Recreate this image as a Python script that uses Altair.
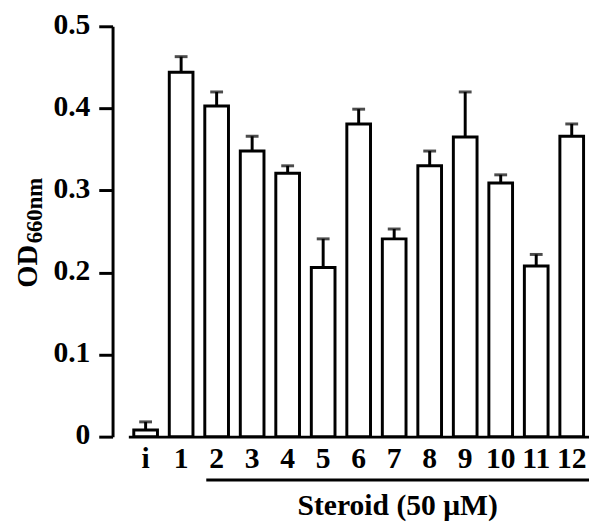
import altair as alt
import pandas as pd

categories = ["i", "1", "2", "3", "4", "5", "6", "7", "8", "9", "10", "11", "12"]
values = [0.008, 0.444, 0.403, 0.348, 0.321, 0.206, 0.381, 0.241, 0.330, 0.365, 0.309, 0.208, 0.366]
errors = [0.010, 0.019, 0.017, 0.018, 0.009, 0.035, 0.018, 0.012, 0.018, 0.055, 0.010, 0.014, 0.015]
y_ticks = [0, 0.1, 0.2, 0.3, 0.4, 0.5]
group_label = "Steroid (50 μM)"

df = pd.DataFrame({"cat": categories, "od": values, "err": errors})
df["hi"] = df["od"] + df["err"]

FONT = "Liberation Serif"
W, H = 467, 416

xscale = alt.Scale(domain=categories, paddingInner=0.333, paddingOuter=0.153)
yscale = alt.Scale(domain=[0, 0.5], nice=False)

x_enc = alt.X("cat:N", scale=xscale, sort=categories,
              axis=alt.Axis(title=None, labelAngle=0, ticks=False, labelFont=FONT,
                            labelFontSize=30, labelFontWeight="bold", labelColor="black",
                            labelPadding=7, domainColor="black", domainWidth=3))
y_axis = alt.Axis(title=None, values=y_ticks, offset=16, grid=False,
                  labelExpr="datum.value == 0 ? '0' : format(datum.value, '.1f')",
                  labelFont=FONT, labelFontSize=30, labelFontWeight="bold", labelColor="black",
                  labelPadding=9, labelOffset=-2, tickSize=14, tickWidth=3, tickColor="black",
                  domainColor="black", domainWidth=3)

base = alt.Chart(df)
bars = base.mark_bar(fill="white", stroke="black", strokeWidth=3).encode(
    x=x_enc,
    y=alt.Y("od:Q", scale=yscale, axis=y_axis),
)
err_rule = base.mark_rule(color="black", strokeWidth=3).encode(
    x=alt.X("cat:N", scale=xscale, sort=categories),
    y=alt.Y("od:Q", scale=yscale),
    y2="hi:Q",
)
err_cap = base.mark_tick(color="black", thickness=3, size=13).encode(
    x=alt.X("cat:N", scale=xscale, sort=categories),
    y=alt.Y("hi:Q", scale=yscale),
)

underline = alt.Chart(pd.DataFrame({"a": [1]})).mark_rule(color="black", strokeWidth=3).encode(
    x=alt.value(79), x2=alt.value(467), y=alt.value(460)
)
group_text = alt.Chart(pd.DataFrame({"t": [group_label]})).mark_text(
    font=FONT, fontSize=30, fontWeight="bold", color="black", align="center", baseline="alphabetic"
).encode(x=alt.value(273), y=alt.value(495), text="t:N")

title_main = alt.Chart(pd.DataFrame({"t": ["OD"]})).mark_text(
    font=FONT, fontSize=29, fontWeight="bold", color="black", align="left",
    baseline="alphabetic", angle=270
).encode(x=alt.value(-93), y=alt.value(265), text="t:N")
title_sub = alt.Chart(pd.DataFrame({"t": ["660nm"]})).mark_text(
    font=FONT, fontSize=23, fontWeight="bold", color="black", align="left",
    baseline="alphabetic", angle=270
).encode(x=alt.value(-88), y=alt.value(220), text="t:N")

chart = alt.layer(bars, err_rule, err_cap, underline, group_text, title_main, title_sub).properties(
    width=W, height=H,
    autosize=alt.AutoSizeParams(type="none"),
    padding={"left": 122, "top": 15, "right": 0, "bottom": 84},
).configure_view(stroke=None)

chart.save("out.html", embed_options={"renderer": "svg", "actions": False})
